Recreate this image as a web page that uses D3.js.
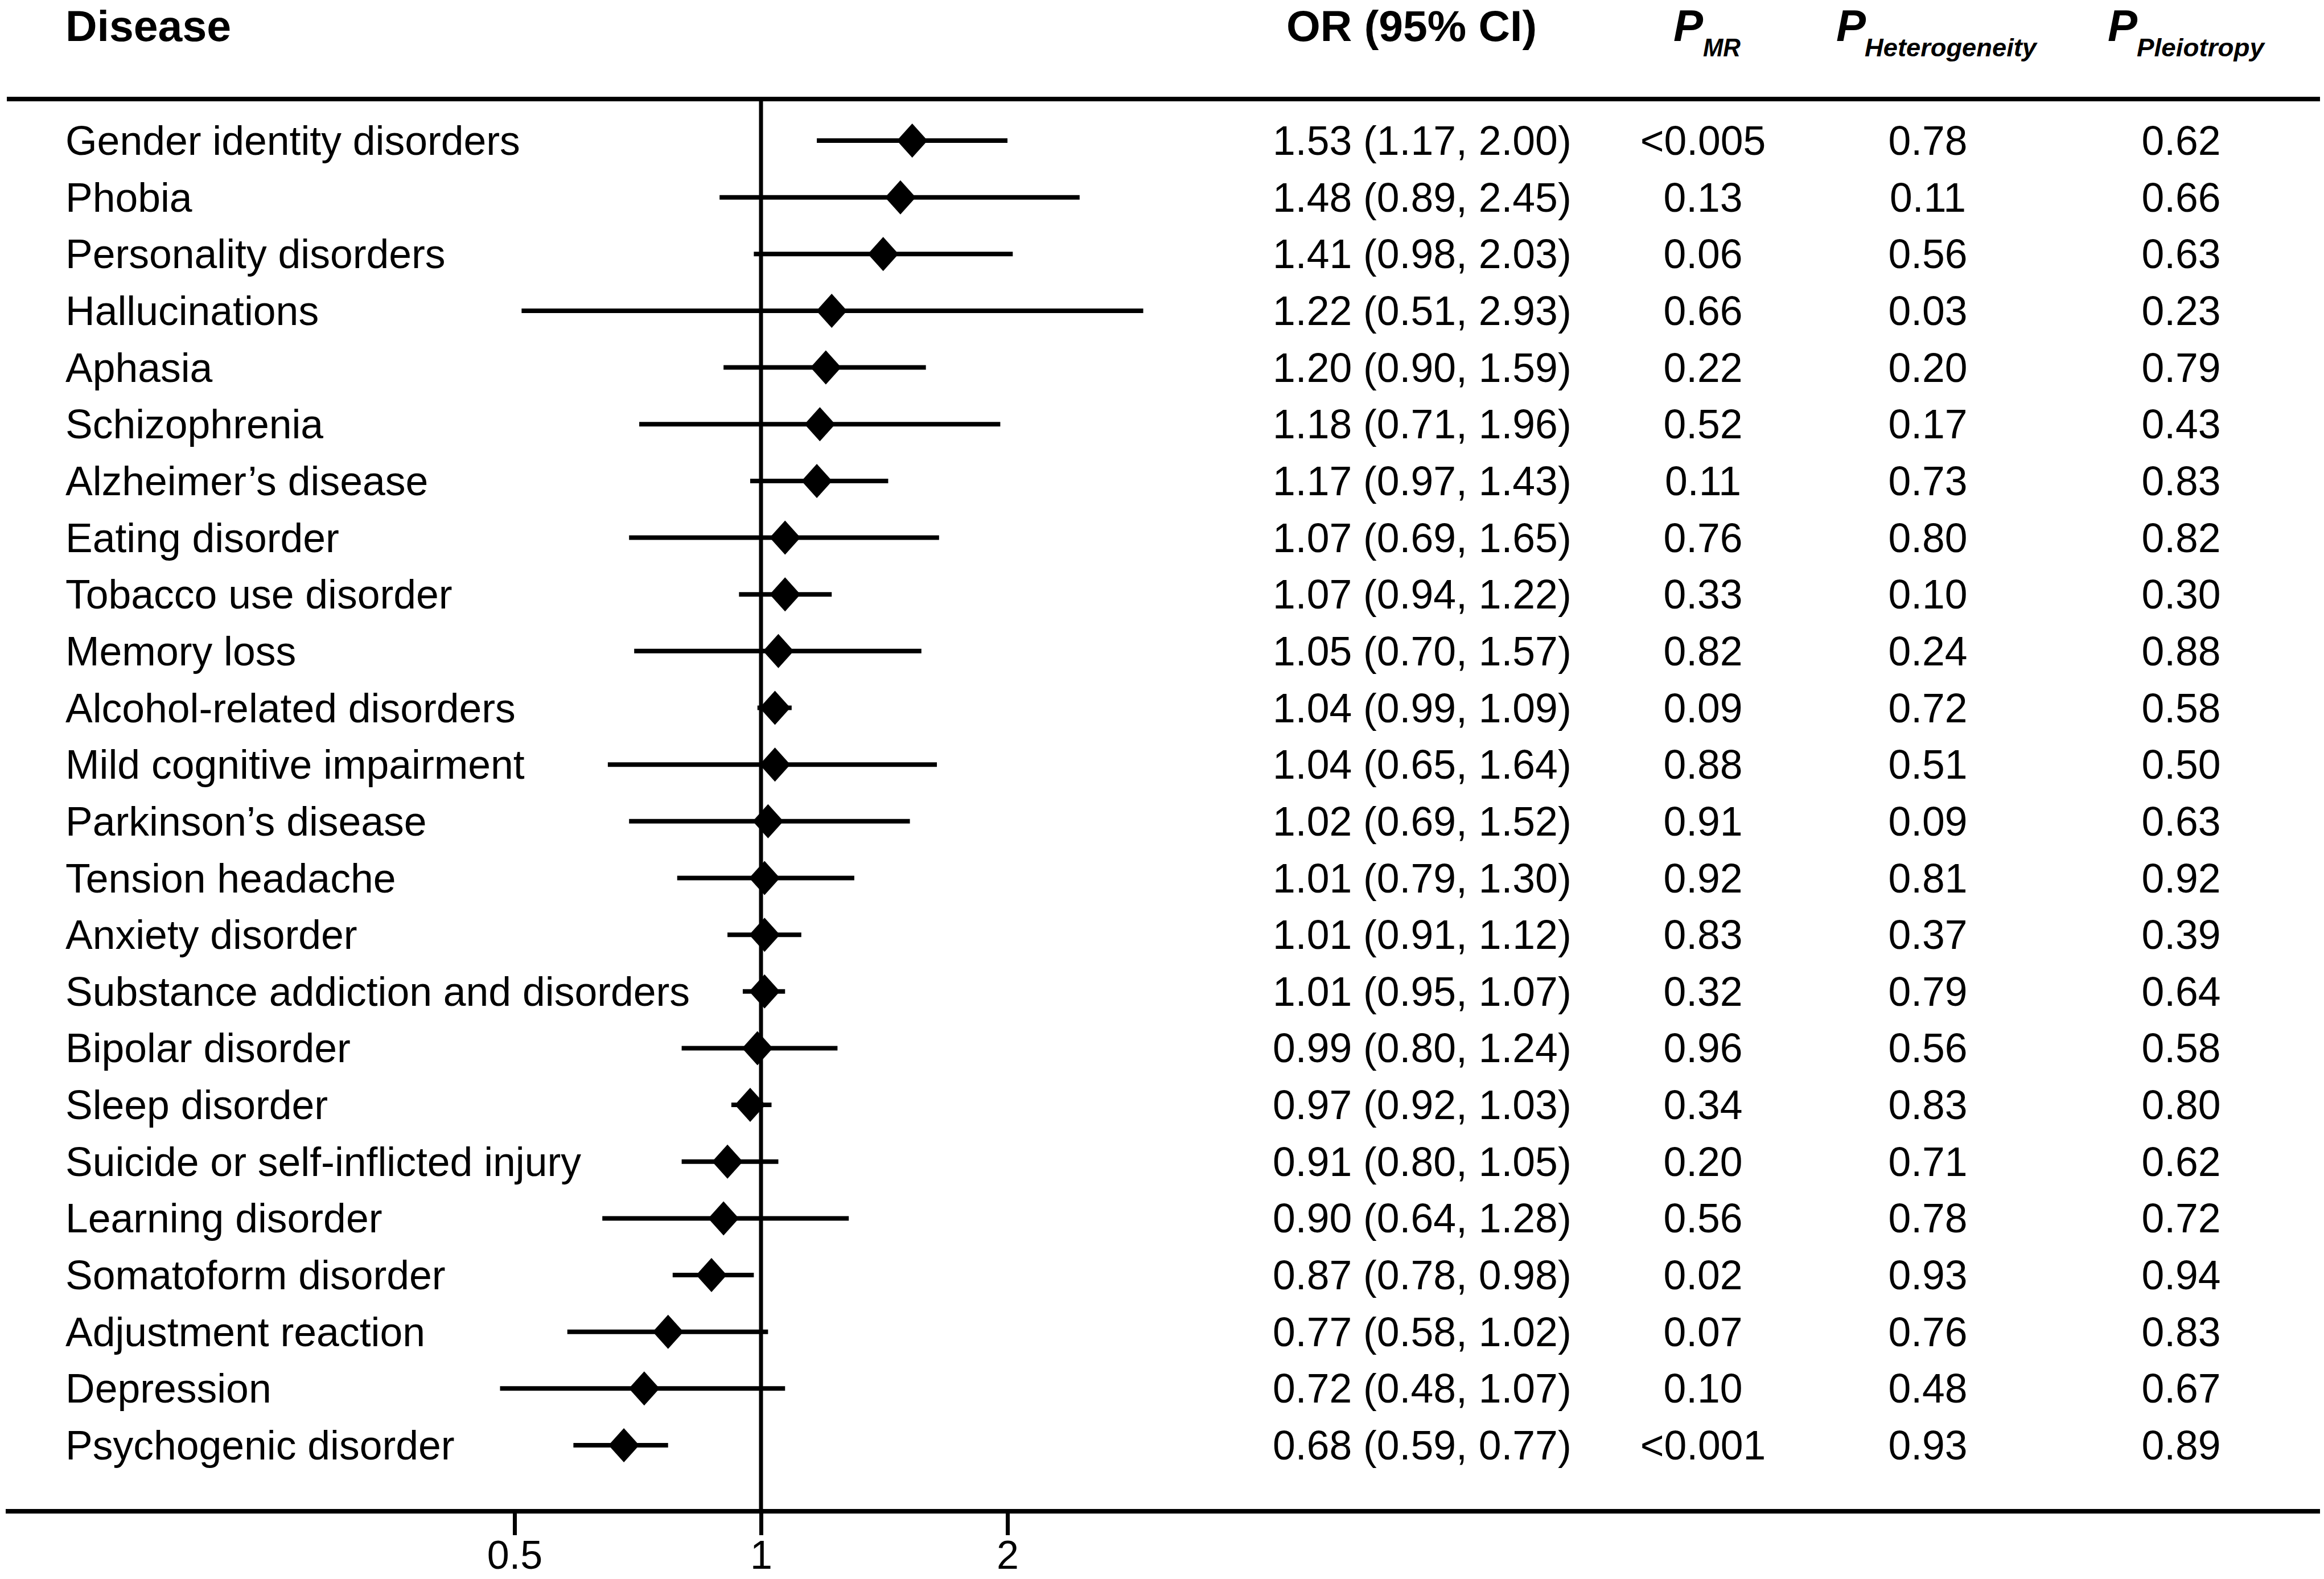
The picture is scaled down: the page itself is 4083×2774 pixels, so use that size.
<!DOCTYPE html>
<html>
<head>
<meta charset="utf-8">
<script src="https://cdn.jsdelivr.net/npm/d3@7"></script>
<style>
  html, body { margin: 0; padding: 0; background: #fff; }
  svg { display: block; }
</style>
</head>
<body>
<div id="chart"></div>
<script>
const diseases = [
  'Gender identity disorders', 'Phobia', 'Personality disorders', 'Hallucinations',
  'Aphasia', 'Schizophrenia', 'Alzheimer\u2019s disease', 'Eating disorder',
  'Tobacco use disorder', 'Memory loss', 'Alcohol-related disorders',
  'Mild cognitive impairment', 'Parkinson\u2019s disease', 'Tension headache',
  'Anxiety disorder', 'Substance addiction and disorders', 'Bipolar disorder',
  'Sleep disorder', 'Suicide or self-inflicted injury', 'Learning disorder',
  'Somatoform disorder', 'Adjustment reaction', 'Depression', 'Psychogenic disorder'
];
const orValues = [1.53, 1.48, 1.41, 1.22, 1.20, 1.18, 1.17, 1.07, 1.07, 1.05, 1.04, 1.04,
                  1.02, 1.01, 1.01, 1.01, 0.99, 0.97, 0.91, 0.90, 0.87, 0.77, 0.72, 0.68];
const ciLower = [1.17, 0.89, 0.98, 0.51, 0.90, 0.71, 0.97, 0.69, 0.94, 0.70, 0.99, 0.65,
                 0.69, 0.79, 0.91, 0.95, 0.80, 0.92, 0.80, 0.64, 0.78, 0.58, 0.48, 0.59];
const ciUpper = [2.00, 2.45, 2.03, 2.93, 1.59, 1.96, 1.43, 1.65, 1.22, 1.57, 1.09, 1.64,
                 1.52, 1.30, 1.12, 1.07, 1.24, 1.03, 1.05, 1.28, 0.98, 1.02, 1.07, 0.77];
const pMR = ['<0.005', '0.13', '0.06', '0.66', '0.22', '0.52', '0.11', '0.76', '0.33', '0.82', '0.09', '0.88',
             '0.91', '0.92', '0.83', '0.32', '0.96', '0.34', '0.20', '0.56', '0.02', '0.07', '0.10', '<0.001'];
const pHet = ['0.78', '0.11', '0.56', '0.03', '0.20', '0.17', '0.73', '0.80', '0.10', '0.24', '0.72', '0.51',
              '0.09', '0.81', '0.37', '0.79', '0.56', '0.83', '0.71', '0.78', '0.93', '0.76', '0.48', '0.93'];
const pPle = ['0.62', '0.66', '0.63', '0.23', '0.79', '0.43', '0.83', '0.82', '0.30', '0.88', '0.58', '0.50',
              '0.63', '0.92', '0.39', '0.64', '0.58', '0.80', '0.62', '0.72', '0.94', '0.83', '0.67', '0.89'];
const tickValues = [0.5, 1, 2];

const W = 4083, H = 2774;
const font = '"Liberation Sans", Arial, Helvetica, sans-serif';
const fs = 71.5;

const rows = diseases.map((name, i) => ({
  name, or: orValues[i], lo: ciLower[i], hi: ciUpper[i],
  pmr: pMR[i], phet: pHet[i], pple: pPle[i]
}));

const svg = d3.select('#chart').append('svg')
    .attr('width', W).attr('height', H)
    .attr('font-family', font);

const x = d3.scaleLog().domain([0.5, 2]).range([904, 1770]);
const y = d3.scalePoint().domain(diseases).range([247, 2539]);

const topY = 174, bottomY = 2655;

// header
const head = svg.append('g').attr('font-weight', 'bold').attr('fill', '#000');
head.append('text').attr('x', 115).attr('y', 72).attr('font-size', 76)
    .attr('textLength', 291).attr('lengthAdjust', 'spacingAndGlyphs').text('Disease');
head.append('text').attr('x', 2260).attr('y', 72).attr('font-size', 76)
    .attr('textLength', 440).attr('lengthAdjust', 'spacingAndGlyphs').text('OR (95% CI)');

const pHeads = [
  { px: 2940, sx: 2992, sub: 'MR', len: 66 },
  { px: 3226, sx: 3276, sub: 'Heterogeneity', len: 302 },
  { px: 3703, sx: 3754, sub: 'Pleiotropy', len: 224 }
];
pHeads.forEach(h => {
  head.append('text').attr('x', h.px).attr('y', 72).attr('font-size', 78)
      .attr('font-style', 'italic').text('P');
  head.append('text').attr('x', h.sx).attr('y', 99).attr('font-size', 44)
      .attr('font-style', 'italic')
      .attr('textLength', h.len).attr('lengthAdjust', 'spacingAndGlyphs').text(h.sub);
});

// border lines
svg.append('line').attr('x1', 12).attr('x2', 4076).attr('y1', topY).attr('y2', topY)
    .attr('stroke', '#000').attr('stroke-width', 8);
svg.append('line').attr('x1', 10).attr('x2', 4076).attr('y1', bottomY).attr('y2', bottomY)
    .attr('stroke', '#000').attr('stroke-width', 8);

// reference line at OR = 1
svg.append('line').attr('x1', x(1)).attr('x2', x(1)).attr('y1', topY).attr('y2', bottomY)
    .attr('stroke', '#000').attr('stroke-width', 7);

// x axis
const axis = svg.append('g')
    .attr('transform', `translate(0,${bottomY})`)
    .call(d3.axisBottom(x).tickValues(tickValues).tickFormat(d3.format(''))
      .tickSize(42).tickSizeOuter(0).tickPadding(9));
axis.select('.domain').remove();
axis.selectAll('.tick line').attr('stroke', '#000').attr('stroke-width', 7);
axis.selectAll('.tick text').attr('font-size', 70).attr('font-family', font).attr('fill', '#000');

// CI lines and diamonds
const marks = svg.append('g');
marks.selectAll('line.ci').data(rows).join('line')
    .attr('class', 'ci')
    .attr('x1', d => x(d.lo)).attr('x2', d => x(d.hi))
    .attr('y1', d => y(d.name)).attr('y2', d => y(d.name))
    .attr('stroke', '#000').attr('stroke-width', 8);

const dw = 27, dh = 30;
marks.selectAll('path.dia').data(rows).join('path')
    .attr('class', 'dia')
    .attr('d', d => {
      const cx = x(d.or), cy = y(d.name);
      return `M${cx},${cy - dh}L${cx + dw},${cy}L${cx},${cy + dh}L${cx - dw},${cy}Z`;
    })
    .attr('fill', '#000');

// table text
const base = d => y(d.name) + fs * 0.35;
const tbl = svg.append('g').attr('font-size', fs).attr('fill', '#000');
tbl.selectAll('text.name').data(rows).join('text')
    .attr('class', 'name').attr('x', 115).attr('y', base).text(d => d.name);
tbl.selectAll('text.or').data(rows).join('text')
    .attr('class', 'or').attr('x', 2236).attr('y', base)
    .text(d => `${d.or.toFixed(2)} (${d.lo.toFixed(2)}, ${d.hi.toFixed(2)})`);
[['pmr', 2992], ['phet', 3387], ['pple', 3832]].forEach(([key, cx]) => {
  tbl.selectAll(`text.${key}`).data(rows).join('text')
      .attr('class', key).attr('x', cx).attr('y', base)
      .attr('text-anchor', 'middle').text(d => d[key]);
});
</script>
</body>
</html>
